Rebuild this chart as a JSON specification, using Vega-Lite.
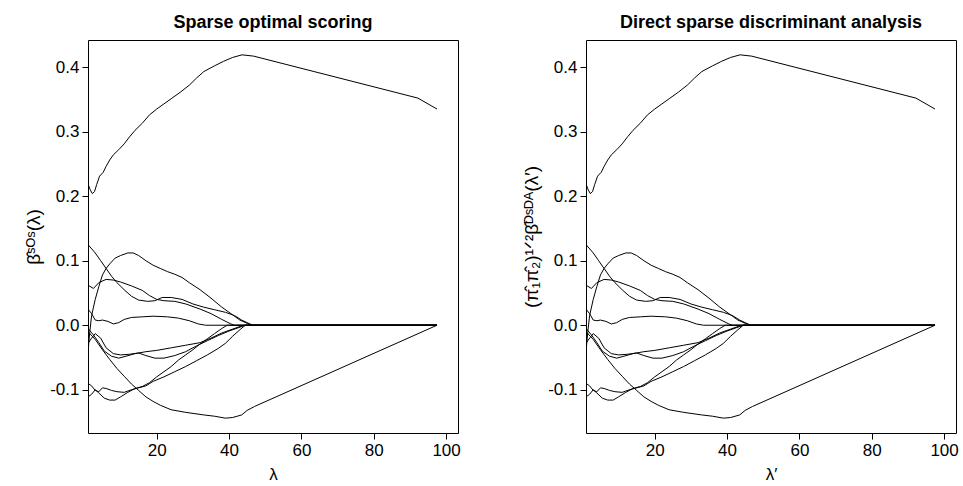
{
  "$schema": "https://vega.github.io/schema/vega-lite/v6.json",
  "padding": {"left": 24, "top": 13, "right": 5, "bottom": 5},
  "background": "white",
  "config": {
    "font": "Liberation Sans",
    "view": {"stroke": "black", "strokeWidth": 1},
    "axis": {
      "domain": false, "grid": false, "ticks": true, "tickColor": "black", "tickSize": 6, "tickWidth": 1,
      "labelFont": "Liberation Sans", "labelFontSize": 17, "labelColor": "black", "labelPadding": 3,
      "labelFlush": false, "labelOverlap": false,
      "titleFont": "Liberation Sans", "titleFontSize": 17, "titleFontWeight": "normal", "titleColor": "black"
    },
    "title": {"font": "Liberation Sans", "fontSize": 18, "fontWeight": "bold", "color": "black", "offset": 8}
  },
  "datasets": {
    "paths": [
      {"c":"A","x":1,"y":0.219},{"c":"A","x":1.6,"y":0.21},{"c":"A","x":2.2,"y":0.204},{"c":"A","x":2.8,"y":0.207},{"c":"A","x":3.4,"y":0.218},{"c":"A","x":4.2,"y":0.231},{"c":"A","x":5.2,"y":0.237},{"c":"A","x":6,"y":0.246},{"c":"A","x":7,"y":0.256},{"c":"A","x":8,"y":0.264},{"c":"A","x":9.5,"y":0.272},{"c":"A","x":11,"y":0.281},{"c":"A","x":12.5,"y":0.292},{"c":"A","x":14,"y":0.302},{"c":"A","x":16,"y":0.313},{"c":"A","x":18,"y":0.326},{"c":"A","x":20,"y":0.335},{"c":"A","x":22,"y":0.343},{"c":"A","x":24,"y":0.351},{"c":"A","x":26.5,"y":0.361},{"c":"A","x":29,"y":0.372},{"c":"A","x":31,"y":0.383},{"c":"A","x":33,"y":0.393},{"c":"A","x":36,"y":0.402},{"c":"A","x":38.5,"y":0.409},{"c":"A","x":41,"y":0.415},{"c":"A","x":43.6,"y":0.419},{"c":"A","x":46.8,"y":0.417},{"c":"A","x":92.2,"y":0.352},{"c":"A","x":97.5,"y":0.335},
      {"c":"B","x":1,"y":-0.01},{"c":"B","x":3,"y":-0.022},{"c":"B","x":5,"y":-0.038},{"c":"B","x":7,"y":-0.053},{"c":"B","x":9,"y":-0.067},{"c":"B","x":11,"y":-0.079},{"c":"B","x":13,"y":-0.091},{"c":"B","x":15,"y":-0.101},{"c":"B","x":17,"y":-0.111},{"c":"B","x":19,"y":-0.118},{"c":"B","x":21,"y":-0.124},{"c":"B","x":24,"y":-0.131},{"c":"B","x":28,"y":-0.135},{"c":"B","x":33,"y":-0.139},{"c":"B","x":36,"y":-0.141},{"c":"B","x":39,"y":-0.144},{"c":"B","x":41,"y":-0.143},{"c":"B","x":43.5,"y":-0.139},{"c":"B","x":45,"y":-0.132},{"c":"B","x":47,"y":-0.126},{"c":"B","x":97.5,"y":0},
      {"c":"C1","x":1,"y":0.125},{"c":"C1","x":3,"y":0.112},{"c":"C1","x":4.5,"y":0.1},{"c":"C1","x":6,"y":0.088},{"c":"C1","x":7.5,"y":0.076},{"c":"C1","x":9,"y":0.066},{"c":"C1","x":11,"y":0.055},{"c":"C1","x":13,"y":0.045},{"c":"C1","x":15,"y":0.039},{"c":"C1","x":17.5,"y":0.037},{"c":"C1","x":19.5,"y":0.038},{"c":"C1","x":21.5,"y":0.043},{"c":"C1","x":24,"y":0.043},{"c":"C1","x":27,"y":0.04},{"c":"C1","x":30,"y":0.033},{"c":"C1","x":33,"y":0.028},{"c":"C1","x":36,"y":0.024},{"c":"C1","x":39,"y":0.02},{"c":"C1","x":41.5,"y":0.015},{"c":"C1","x":43.5,"y":0.008},{"c":"C1","x":45,"y":0.004},{"c":"C1","x":46.5,"y":0},{"c":"C1","x":97.5,"y":0},
      {"c":"C2","x":1,"y":0.062},{"c":"C2","x":2.5,"y":0.057},{"c":"C2","x":4,"y":0.066},{"c":"C2","x":6,"y":0.071},{"c":"C2","x":8,"y":0.07},{"c":"C2","x":10,"y":0.067},{"c":"C2","x":13,"y":0.061},{"c":"C2","x":16,"y":0.054},{"c":"C2","x":18,"y":0.046},{"c":"C2","x":20,"y":0.04},{"c":"C2","x":22,"y":0.038},{"c":"C2","x":25,"y":0.037},{"c":"C2","x":28,"y":0.033},{"c":"C2","x":32,"y":0.025},{"c":"C2","x":35,"y":0.018},{"c":"C2","x":38,"y":0.009},{"c":"C2","x":40.5,"y":0.002},{"c":"C2","x":41.5,"y":0},{"c":"C2","x":97.5,"y":0},
      {"c":"C3","x":1,"y":-0.042},{"c":"C3","x":1.5,"y":-0.01},{"c":"C3","x":2,"y":0.015},{"c":"C3","x":3,"y":0.04},{"c":"C3","x":4,"y":0.06},{"c":"C3","x":5,"y":0.078},{"c":"C3","x":6,"y":0.088},{"c":"C3","x":7,"y":0.095},{"c":"C3","x":8.5,"y":0.104},{"c":"C3","x":10,"y":0.108},{"c":"C3","x":12,"y":0.112},{"c":"C3","x":13.5,"y":0.112},{"c":"C3","x":15,"y":0.108},{"c":"C3","x":17,"y":0.1},{"c":"C3","x":19,"y":0.093},{"c":"C3","x":21,"y":0.088},{"c":"C3","x":23,"y":0.083},{"c":"C3","x":25,"y":0.079},{"c":"C3","x":27,"y":0.074},{"c":"C3","x":29,"y":0.066},{"c":"C3","x":32,"y":0.055},{"c":"C3","x":35,"y":0.042},{"c":"C3","x":38,"y":0.028},{"c":"C3","x":41,"y":0.016},{"c":"C3","x":43,"y":0.008},{"c":"C3","x":45,"y":0.003},{"c":"C3","x":46.5,"y":0},{"c":"C3","x":97.5,"y":0},
      {"c":"C4","x":1,"y":0.025},{"c":"C4","x":2,"y":0.018},{"c":"C4","x":3,"y":0.008},{"c":"C4","x":4,"y":0.007},{"c":"C4","x":5,"y":0.008},{"c":"C4","x":6.5,"y":0.006},{"c":"C4","x":8,"y":0.002},{"c":"C4","x":9.5,"y":0.004},{"c":"C4","x":11,"y":0.009},{"c":"C4","x":13,"y":0.012},{"c":"C4","x":16,"y":0.013},{"c":"C4","x":19,"y":0.014},{"c":"C4","x":23,"y":0.013},{"c":"C4","x":26,"y":0.011},{"c":"C4","x":29,"y":0.007},{"c":"C4","x":31.5,"y":0.002},{"c":"C4","x":33.5,"y":0},{"c":"C4","x":97.5,"y":0},
      {"c":"N1","x":1,"y":-0.005},{"c":"N1","x":2.5,"y":-0.015},{"c":"N1","x":4,"y":-0.027},{"c":"N1","x":5.5,"y":-0.04},{"c":"N1","x":7.5,"y":-0.048},{"c":"N1","x":9.5,"y":-0.051},{"c":"N1","x":11.5,"y":-0.048},{"c":"N1","x":14,"y":-0.044},{"c":"N1","x":17,"y":-0.041},{"c":"N1","x":20,"y":-0.039},{"c":"N1","x":24,"y":-0.035},{"c":"N1","x":28,"y":-0.031},{"c":"N1","x":32,"y":-0.027},{"c":"N1","x":35,"y":-0.02},{"c":"N1","x":38,"y":-0.012},{"c":"N1","x":41,"y":-0.006},{"c":"N1","x":43.5,"y":-0.001},{"c":"N1","x":44.5,"y":0},{"c":"N1","x":97.5,"y":0},
      {"c":"N2","x":1,"y":-0.028},{"c":"N2","x":2,"y":-0.02},{"c":"N2","x":3,"y":-0.013},{"c":"N2","x":4.5,"y":-0.02},{"c":"N2","x":6,"y":-0.035},{"c":"N2","x":8,"y":-0.044},{"c":"N2","x":10,"y":-0.046},{"c":"N2","x":12.5,"y":-0.045},{"c":"N2","x":15,"y":-0.043},{"c":"N2","x":17,"y":-0.047},{"c":"N2","x":19.5,"y":-0.051},{"c":"N2","x":22,"y":-0.051},{"c":"N2","x":25,"y":-0.047},{"c":"N2","x":28,"y":-0.041},{"c":"N2","x":31,"y":-0.032},{"c":"N2","x":34,"y":-0.024},{"c":"N2","x":37,"y":-0.016},{"c":"N2","x":40,"y":-0.009},{"c":"N2","x":42.5,"y":-0.004},{"c":"N2","x":44.5,"y":0},{"c":"N2","x":97.5,"y":0},
      {"c":"L1","x":1,"y":-0.09},{"c":"L1","x":2,"y":-0.094},{"c":"L1","x":3,"y":-0.101},{"c":"L1","x":4,"y":-0.103},{"c":"L1","x":5,"y":-0.097},{"c":"L1","x":6,"y":-0.098},{"c":"L1","x":7.5,"y":-0.101},{"c":"L1","x":9,"y":-0.103},{"c":"L1","x":11,"y":-0.104},{"c":"L1","x":13,"y":-0.1},{"c":"L1","x":15,"y":-0.097},{"c":"L1","x":17,"y":-0.094},{"c":"L1","x":19,"y":-0.087},{"c":"L1","x":22,"y":-0.08},{"c":"L1","x":25,"y":-0.072},{"c":"L1","x":28,"y":-0.064},{"c":"L1","x":31,"y":-0.055},{"c":"L1","x":34,"y":-0.046},{"c":"L1","x":37,"y":-0.036},{"c":"L1","x":39,"y":-0.028},{"c":"L1","x":41,"y":-0.017},{"c":"L1","x":43,"y":-0.007},{"c":"L1","x":44.5,"y":0},{"c":"L1","x":97.5,"y":0},
      {"c":"L2","x":1,"y":-0.111},{"c":"L2","x":2,"y":-0.107},{"c":"L2","x":3,"y":-0.1},{"c":"L2","x":4,"y":-0.105},{"c":"L2","x":5.5,"y":-0.113},{"c":"L2","x":7,"y":-0.116},{"c":"L2","x":8.5,"y":-0.116},{"c":"L2","x":10,"y":-0.111},{"c":"L2","x":12,"y":-0.104},{"c":"L2","x":14,"y":-0.098},{"c":"L2","x":16,"y":-0.095},{"c":"L2","x":18,"y":-0.089},{"c":"L2","x":20,"y":-0.08},{"c":"L2","x":22,"y":-0.072},{"c":"L2","x":24,"y":-0.064},{"c":"L2","x":26,"y":-0.054},{"c":"L2","x":28,"y":-0.046},{"c":"L2","x":30,"y":-0.038},{"c":"L2","x":32,"y":-0.029},{"c":"L2","x":34,"y":-0.021},{"c":"L2","x":36,"y":-0.013},{"c":"L2","x":38,"y":-0.005},{"c":"L2","x":39.5,"y":0},{"c":"L2","x":97.5,"y":0}
    ]
  },
  "bounds": "flush",
  "spacing": 128,
  "hconcat": [
    {
      "title": "Sparse optimal scoring",
      "width": 370, "height": 393,
      "data": {"name": "paths"},
      "mark": {"type": "line", "color": "black", "strokeWidth": 1, "clip": true},
      "encoding": {
        "x": {"field": "x", "type": "quantitative", "scale": {"domain": [1, 103.3], "nice": false, "zero": false},
              "axis": {"values": [20, 40, 60, 80, 100], "title": "λ", "titlePadding": 8}},
        "y": {"field": "y", "type": "quantitative", "scale": {"domain": [-0.167, 0.442], "nice": false, "zero": false},
              "axis": {"values": [-0.1, 0, 0.1, 0.2, 0.3, 0.4], "labelExpr": "datum.value < 0 ? '-' + format(-datum.value, '.1f') : format(datum.value, '.1f')", "title": "β̂ˢᴼˢ(λ)", "titleFontSize": 19, "titlePadding": 6}},
        "detail": {"field": "c", "type": "nominal"}
      }
    },
    {
      "title": "Direct sparse discriminant analysis",
      "width": 370, "height": 393,
      "data": {"name": "paths"},
      "mark": {"type": "line", "color": "black", "strokeWidth": 1, "clip": true},
      "encoding": {
        "x": {"field": "x", "type": "quantitative", "scale": {"domain": [1, 103.3], "nice": false, "zero": false},
              "axis": {"values": [20, 40, 60, 80, 100], "title": "λ′", "titlePadding": 8}},
        "y": {"field": "y", "type": "quantitative", "scale": {"domain": [-0.167, 0.442], "nice": false, "zero": false},
              "axis": {"values": [-0.1, 0, 0.1, 0.2, 0.3, 0.4], "labelExpr": "datum.value < 0 ? '-' + format(-datum.value, '.1f') : format(datum.value, '.1f')", "title": "(π̂₁π̂₂)¹ᐟ²β̂ᴰˢᴰᴬ(λ′)", "titleFontSize": 19, "titlePadding": 6}},
        "detail": {"field": "c", "type": "nominal"}
      }
    }
  ]
}
